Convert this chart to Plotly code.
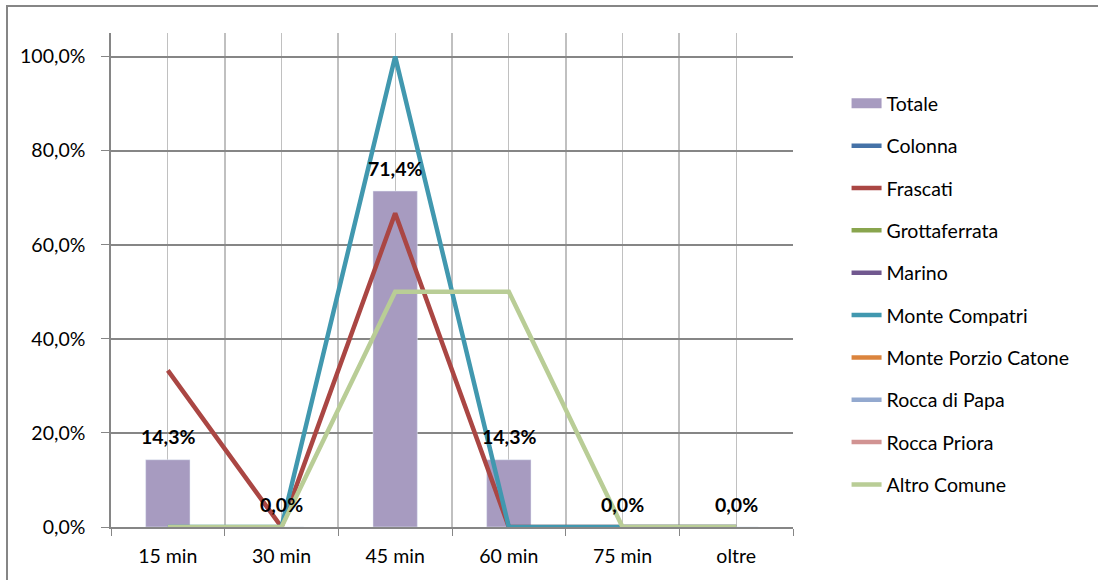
import plotly.graph_objects as go

categories = ["15 min", "30 min", "45 min", "60 min", "75 min", "oltre"]
totale = [14.3, 0.0, 71.4, 14.3, 0.0, 0.0]
colonna = [None, None, None, None, None, None]
frascati = [33.3, 0.0, 66.7, 0.0, 0.0, 0.0]
grottaferrata = [None, None, None, None, None, None]
marino = [None, None, None, None, None, None]
monte_compatri = [0.0, 0.0, 100.0, 0.0, 0.0, 0.0]
monte_porzio_catone = [None, None, None, None, None, None]
rocca_di_papa = [None, None, None, None, None, None]
rocca_priora = [None, None, None, None, None, None]
altro_comune = [0.0, 0.0, 50.0, 50.0, 0.0, 0.0]
y_ticks = [0, 20, 40, 60, 80, 100]


def pct(v):
    return f"{v:.1f}".replace(".", ",") + "%"


FONT = "Lato, 'Open Sans', sans-serif"
FS = 19.5
xpos = list(range(len(categories)))

fig = go.Figure()

# Totale bars (legend via dummy line for wide swatch)
fig.add_trace(go.Bar(x=xpos, y=totale, marker_color="#a79bc0", width=0.39,
                     showlegend=False, name="Totale"))
fig.add_trace(go.Scatter(x=[None], y=[None], mode="lines", name="Totale",
                         line=dict(color="#a79bc0", width=12), legendgroup="g0"))

series = [
    ("Colonna", colonna, "#4572a7"),
    ("Frascati", frascati, "#aa4643"),
    ("Grottaferrata", grottaferrata, "#89a54e"),
    ("Marino", marino, "#71588f"),
    ("Monte Compatri", monte_compatri, "#4198af"),
    ("Monte Porzio Catone", monte_porzio_catone, "#db843d"),
    ("Rocca di Papa", rocca_di_papa, "#93a9cf"),
    ("Rocca Priora", rocca_priora, "#d19392"),
    ("Altro Comune", altro_comune, "#b9cd96"),
]
for i, (name, vals, col) in enumerate(series):
    fig.add_trace(go.Scatter(x=xpos, y=vals, mode="lines", name=name,
                             line=dict(color=col, width=4.5),
                             legendgroup=f"g{i+1}", connectgaps=False))

# data labels for Totale
for xv, v in zip(xpos, totale):
    fig.add_annotation(x=xv, y=v, text="<b>" + pct(v) + "</b>",
                       showarrow=False, yanchor="middle", yshift=23,
                       font=dict(family=FONT, size=FS, color="black"))

L, R, T, B = 111, 1098 - 793, 33, 580 - 527
pw, ph = 1098 - L - R, 580 - T - B

# outer chart border
fig.add_shape(type="rect", xref="paper", yref="paper",
              x0=(7 - L) / pw, x1=(1110 - L) / pw,
              y0=(527 - 600) / ph, y1=(527 - 6) / ph,
              line=dict(color="#868686", width=2), layer="below")

bounds = [i - 0.5 for i in range(len(categories) + 1)]

fig.update_layout(
    width=1098, height=580,
    margin=dict(l=L, r=R, t=T, b=B),
    paper_bgcolor="white", plot_bgcolor="white",
    font=dict(family=FONT, size=FS, color="black"),
    barmode="overlay",
    legend=dict(xref="container", yref="container", x=0.771, y=0.855,
                xanchor="left", yanchor="top", traceorder="grouped",
                tracegroupgap=14, maxheight=520,
                font=dict(family=FONT, size=FS, color="black"),
                bgcolor="rgba(0,0,0,0)"),
    xaxis=dict(range=[-0.5, len(categories) - 0.5], tickmode="array",
               tickvals=xpos, ticktext=categories, ticks="",
               showgrid=True, gridcolor="#c0c0c0", gridwidth=1,
               showline=True, linecolor="#868686", linewidth=1.5,
               zeroline=False, ticklabelstandoff=11,
               minor=dict(tickmode="array", tickvals=bounds, ticks="outside",
                          ticklen=7, tickcolor="#868686", showgrid=True,
                          gridcolor="#c0c0c0", gridwidth=1.5),
               fixedrange=True),
    yaxis=dict(range=[0, 105], tickmode="array", tickvals=y_ticks,
               ticktext=[pct(v) for v in y_ticks], ticks="outside", ticklen=8,
               tickcolor="#868686", showgrid=True, gridcolor="#868686",
               gridwidth=1.5, showline=True, linecolor="#868686", linewidth=1.5,
               zeroline=False, ticklabelstandoff=12, fixedrange=True),
)

fig.write_html("out.html", config={"displayModeBar": False},
               post_script="document.body.style.margin='0';")
